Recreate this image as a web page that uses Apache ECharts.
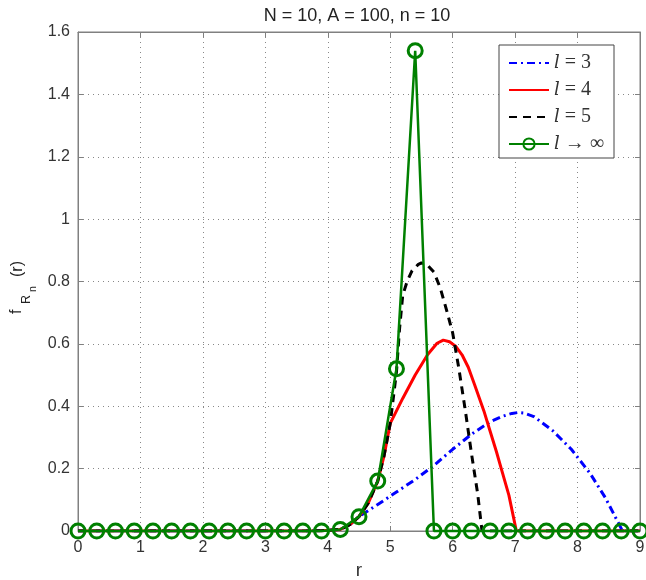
<!DOCTYPE html>
<html>
<head>
<meta charset="utf-8">
<script src="https://cdn.jsdelivr.net/npm/echarts@6/dist/echarts.min.js"></script>
<style>html,body{margin:0;padding:0;background:#fff}#c{width:646px;height:580px}</style>
</head>
<body>
<div id="c"></div>
<script>
// ---- data ----
const titleText = 'N = 10, A = 100, n = 10';
const seriesNames = ['l = 3', 'l = 4', 'l = 5', 'l \u2192 \u221e'];
const xTickLabels = ['0','1','2','3','4','5','6','7','8','9'];

const l3_r = [0, 3.6, 3.9, 4.2, 4.35, 4.5, 4.8, 5.1, 5.4, 5.7, 6.0, 6.3, 6.6, 6.8, 6.95, 7.05, 7.15, 7.3, 7.6, 7.9, 8.2, 8.45, 8.72, 9.0];
const l3_f = [0, 0, 0.001, 0.005, 0.02, 0.046, 0.085, 0.125, 0.165, 0.21, 0.262, 0.31, 0.35, 0.368, 0.377, 0.38, 0.378, 0.367, 0.322, 0.262, 0.185, 0.105, 0, 0];

const l4_r = [0, 3.6, 3.9, 4.2, 4.35, 4.5, 4.65, 4.8, 4.9, 5.0, 5.2, 5.4, 5.6, 5.75, 5.85, 5.95, 6.05, 6.15, 6.25, 6.35, 6.5, 6.6, 6.7, 6.8, 6.9, 7.02, 9.0];
const l4_f = [0, 0, 0.001, 0.005, 0.02, 0.046, 0.09, 0.16, 0.24, 0.345, 0.425, 0.5, 0.566, 0.602, 0.612, 0.607, 0.592, 0.565, 0.525, 0.47, 0.385, 0.32, 0.255, 0.185, 0.115, 0, 0];

const l5_r = [0, 3.6, 3.9, 4.2, 4.35, 4.5, 4.65, 4.8, 4.9, 5.0, 5.1, 5.15, 5.2, 5.27, 5.35, 5.45, 5.5, 5.6, 5.7, 5.8, 5.9, 6.0, 6.1, 6.2, 6.3, 6.4, 6.47, 9.0];
const l5_f = [0, 0, 0.001, 0.005, 0.02, 0.046, 0.09, 0.16, 0.24, 0.345, 0.51, 0.65, 0.755, 0.80, 0.835, 0.855, 0.86, 0.852, 0.83, 0.78, 0.71, 0.635, 0.52, 0.39, 0.25, 0.12, 0, 0];

const linf_r = [0, 0.3, 0.6, 0.9, 1.2, 1.5, 1.8, 2.1, 2.4, 2.7, 3.0, 3.3, 3.6, 3.9, 4.2, 4.5, 4.8, 5.1, 5.4, 5.7, 6.0, 6.3, 6.6, 6.9, 7.2, 7.5, 7.8, 8.1, 8.4, 8.7, 9.0];
const linf_f = [0, 0, 0, 0, 0, 0, 0, 0, 0, 0, 0, 0, 0, 0, 0.005, 0.046, 0.16, 0.52, 1.54, 0, 0, 0, 0, 0, 0, 0, 0, 0, 0, 0, 0];

function pairs(xs, ys) { return xs.map((x, i) => [x, ys[i]]); }

const FONT = 'Liberation Sans, Arial, sans-serif';
const AX = '#808080';
const chart = echarts.init(document.getElementById('c'), null, {renderer: 'canvas'});

const axisCommon = {
  axisLine: {show: true, onZero: false, lineStyle: {color: AX, width: 1}},
  axisTick: {show: true, inside: true, length: 5, lineStyle: {color: AX}},
  splitLine: {show: false}
};

chart.setOption({
  animation: false,
  backgroundColor: '#fff',
  title: {
    text: titleText, left: 352, top: 2, textAlign: 'center',
    textStyle: {fontFamily: FONT, fontSize: 18, fontWeight: 'normal', color: '#222'}
  },
  grid: {left: 78, right: 6, top: 32, bottom: 49, show: true, borderColor: AX, borderWidth: 1,
    containLabel: false, outerBoundsMode: 'none'},
  legend: {
    orient: 'vertical', left: 499, top: 45,
    itemWidth: 40, itemHeight: 14, itemGap: 7,
    padding: [8, 10, 4, 9],
    backgroundColor: '#fff', borderColor: '#444', borderWidth: 1,
    data: [
      {name: seriesNames[0], itemStyle: {opacity: 0}},
      {name: seriesNames[1], itemStyle: {opacity: 0}},
      {name: seriesNames[2], itemStyle: {opacity: 0}},
      {name: seriesNames[3]}
    ],
    formatter: function (name) {
      return '{i|l}{t|' + name.slice(1) + '}';
    },
    textStyle: {
      rich: {
        i: {fontFamily: 'DejaVu Serif, Liberation Serif, serif', fontStyle: 'italic', fontSize: 18, color: '#333', lineHeight: 20},
        t: {fontFamily: 'Liberation Serif, DejaVu Serif, serif', fontSize: 20, color: '#333', lineHeight: 20}
      }
    }
  },
  xAxis: [
    Object.assign({}, axisCommon, {
      type: 'value', min: 0, max: 9, interval: 1, position: 'bottom',
      name: 'r', nameLocation: 'middle', nameGap: 29,
      nameTextStyle: {fontFamily: FONT, fontSize: 19, color: '#333'},
      axisLabel: {fontFamily: FONT, fontSize: 16, color: '#333', margin: 9,
        formatter: v => xTickLabels[Math.round(v)]},
      splitLine: {show: true, lineStyle: {color: '#888', type: [1, 4], width: 1}}
    }),
    Object.assign({}, axisCommon, {
      type: 'value', min: 0, max: 9, interval: 1, position: 'top',
      axisLabel: {show: false}
    })
  ],
  yAxis: [
    Object.assign({}, axisCommon, {
      type: 'value', min: 0, max: 1.6, interval: 0.2, position: 'left',
      axisLabel: {fontFamily: FONT, fontSize: 16, color: '#333', margin: 8},
      splitLine: {show: true, lineStyle: {color: '#888', type: [1, 4], width: 1}}
    }),
    Object.assign({}, axisCommon, {
      type: 'value', min: 0, max: 1.6, interval: 0.2, position: 'right',
      axisLabel: {show: false}
    })
  ],
  graphic: [{
    type: 'group', x: 17, y: 314, rotation: Math.PI / 2,
    children: [
      {type: 'text', x: 0, y: 0, style: {text: 'f', fontFamily: FONT, fontSize: 16, fill: '#222', verticalAlign: 'middle', align: 'left'}},
      {type: 'text', x: 10, y: 10, style: {text: 'R', fontFamily: FONT, fontSize: 12.5, fill: '#222', verticalAlign: 'middle', align: 'left'}},
      {type: 'text', x: 22, y: 16, style: {text: 'n', fontFamily: FONT, fontSize: 10.5, fill: '#222', verticalAlign: 'middle', align: 'left'}},
      {type: 'text', x: 37, y: 1, style: {text: '(r)', fontFamily: FONT, fontSize: 16, fill: '#222', verticalAlign: 'middle', align: 'left'}}
    ]
  }],
  series: [
    {
      name: seriesNames[0], type: 'line', data: pairs(l3_r, l3_f), showSymbol: false, symbol: 'none',
      lineStyle: {color: '#0000ff', width: 3, type: [8, 4, 2, 4]}, itemStyle: {color: '#0000ff'}, z: 2
    },
    {
      name: seriesNames[1], type: 'line', data: pairs(l4_r, l4_f), showSymbol: false, symbol: 'none',
      lineStyle: {color: '#ff0000', width: 3}, itemStyle: {color: '#ff0000'}, z: 3
    },
    {
      name: seriesNames[2], type: 'line', data: pairs(l5_r, l5_f), showSymbol: false, symbol: 'none',
      lineStyle: {color: '#000000', width: 3, type: [8, 6]}, itemStyle: {color: '#000000'}, z: 4
    },
    {
      name: seriesNames[3], type: 'line', data: pairs(linf_r, linf_f),
      symbol: 'circle', symbolSize: 14, showSymbol: true, clip: false,
      lineStyle: {color: '#008000', width: 2.5},
      itemStyle: {color: 'rgba(255,255,255,0)', borderColor: '#008000', borderWidth: 3}, z: 5
    }
  ]
});
</script>
</body>
</html>
